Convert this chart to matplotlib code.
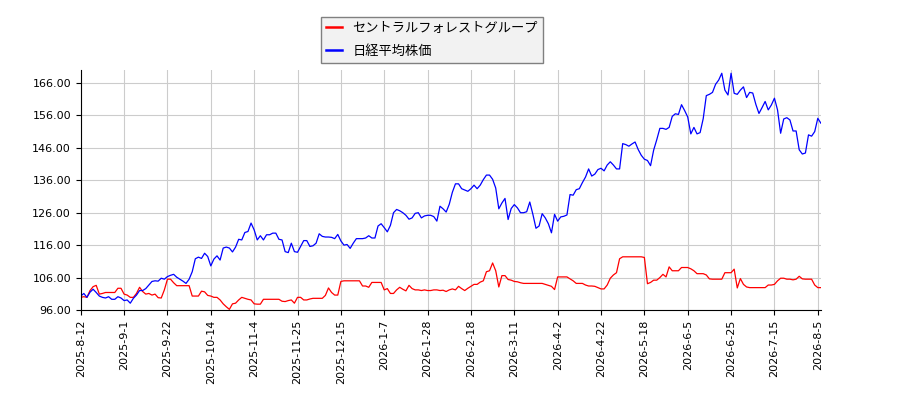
import matplotlib
matplotlib.use("Agg")
import matplotlib.pyplot as plt
import numpy as np

plt.rcParams['font.family'] = ['Noto Sans CJK JP', 'DejaVu Sans']

tick_labels = ["2025-8-12", "2025-9-1", "2025-9-22", "2025-10-14", "2025-11-4",
               "2025-11-25", "2025-12-15", "2026-1-7", "2026-1-28", "2026-2-18",
               "2026-3-11", "2026-4-2", "2026-4-22", "2026-5-18", "2026-6-5",
               "2026-6-25", "2026-7-15", "2026-8-5"]
tick_step = 14

nikkei = [
    100.3, 101.1, 99.9, 101.5, 102.4, 101.4, 100.3, 99.9, 99.7, 100.1,
    99.3, 99.3, 100.1, 99.7, 98.9, 99.1, 98.1, 99.6, 100.6, 102.0,
    102.0, 102.6, 103.7, 104.8, 105.0, 104.9, 105.8, 105.5, 106.3, 106.7,
    107.0, 106.1, 105.5, 104.9, 104.2, 105.5, 107.8, 111.8, 112.3, 111.9,
    113.5, 112.5, 109.6, 111.7, 112.7, 111.4, 115.1, 115.4, 115.1, 113.9,
    115.4, 117.8, 117.6, 119.9, 120.2, 122.8, 120.7, 117.6, 118.9, 117.6,
    119.2, 119.2, 119.7, 119.7, 117.8, 117.6, 114.0, 113.7, 116.6, 114.0,
    113.8, 115.6, 117.4, 117.4, 115.6, 115.8, 116.6, 119.5, 118.7, 118.5,
    118.5, 118.4, 118.0, 119.3, 117.3, 116.0, 116.2, 115.0, 116.6, 118.0,
    118.0, 118.0, 118.2, 118.9, 118.2, 118.2, 121.9, 122.6, 121.4, 120.1,
    122.1, 126.0, 127.0, 126.6, 126.0, 125.2, 124.0, 124.4, 125.8, 126.0,
    124.4, 125.0, 125.2, 125.2, 124.8, 123.4, 128.0, 127.2, 126.2, 128.6,
    132.3, 134.9, 134.9, 133.4, 133.0, 132.6, 133.4, 134.5, 133.4, 134.5,
    136.2, 137.6, 137.6, 136.3, 133.6, 127.2, 129.0, 130.4, 123.9, 127.3,
    128.5, 127.5, 126.0, 126.0, 126.3, 129.3, 125.5, 121.2, 121.9, 125.7,
    124.4, 122.6, 119.8, 125.5, 123.4, 124.7, 124.9, 125.3, 131.6, 131.4,
    133.1, 133.4, 135.3, 137.0, 139.5, 137.3, 137.9, 139.3, 139.7, 138.9,
    140.7, 141.7, 140.7, 139.5, 139.5, 147.3, 147.0, 146.5, 147.2, 147.8,
    145.5, 143.7, 142.5, 142.1, 140.5, 145.3, 148.5, 152.0, 152.0, 151.7,
    152.3, 155.7, 156.5, 156.3, 159.3, 157.5, 155.5, 150.3, 152.3, 150.3,
    150.7, 155.0, 162.1, 162.5, 163.1, 165.6, 166.9, 169.0, 163.8, 162.3,
    169.0, 162.8, 162.5, 163.8, 164.8, 161.5, 163.1, 162.9, 159.4, 156.6,
    158.4, 160.3, 157.7, 159.2, 161.3, 157.7, 150.5, 154.9, 155.3, 154.6,
    151.2, 151.2, 145.4, 144.1, 144.4, 150.0, 149.6, 151.0, 155.1, 153.6,
]

central_forest = [
    99.9, 100.1, 99.9, 102.0, 103.2, 103.6, 100.9, 101.1, 101.4, 101.4,
    101.4, 101.4, 102.7, 102.7, 100.9, 100.6, 99.9, 99.9, 101.1, 103.0,
    101.7, 100.9, 101.1, 100.6, 100.9, 99.8, 99.7, 102.2, 105.5, 105.5,
    104.4, 103.5, 103.5, 103.5, 103.5, 103.5, 100.3, 100.3, 100.3, 101.8,
    101.6, 100.5, 100.3, 99.9, 99.9, 99.1, 97.9, 97.0, 96.2, 97.9,
    98.1, 99.1, 99.9, 99.6, 99.3, 99.1, 97.9, 97.8, 97.8, 99.3,
    99.3, 99.3, 99.3, 99.3, 99.3, 98.7, 98.6, 98.9, 99.1, 98.1,
    99.9, 99.9, 99.1, 99.1, 99.4, 99.6, 99.6, 99.6, 99.6, 100.5,
    102.8, 101.4, 100.6, 100.6, 104.8, 105.0, 105.0, 105.0, 105.0, 105.0,
    105.0, 103.4, 103.4, 103.0, 104.5, 104.5, 104.5, 104.5, 102.2, 102.6,
    101.1, 101.1, 102.2, 103.0, 102.4, 101.9, 103.6, 102.6, 102.2, 102.2,
    102.0, 102.2, 102.0, 102.0, 102.2, 102.2, 102.0, 102.1, 101.7, 102.2,
    102.5, 102.2, 103.3, 102.6, 102.0, 102.7, 103.3, 103.9, 103.9, 104.6,
    105.0, 107.8, 108.1, 110.5, 108.1, 103.1, 106.6, 106.6, 105.4, 105.2,
    104.8, 104.7, 104.4, 104.2, 104.2, 104.2, 104.2, 104.2, 104.2, 104.2,
    103.9, 103.6, 103.3, 102.3, 106.2, 106.2, 106.2, 106.2, 105.6, 105.0,
    104.2, 104.2, 104.2, 103.7, 103.4, 103.4, 103.3, 102.9, 102.5, 102.5,
    103.7, 105.8, 106.8, 107.5, 111.8, 112.4, 112.4, 112.4, 112.4, 112.4,
    112.4, 112.4, 112.2, 104.1, 104.5, 105.2, 105.2, 106.0, 107.0, 106.2,
    109.3, 108.1, 108.1, 108.1, 109.1, 109.1, 109.1, 108.7, 108.1, 107.2,
    107.2, 107.2, 106.8, 105.6, 105.5, 105.5, 105.5, 105.5, 107.5, 107.5,
    107.5, 108.6, 102.8, 105.7, 103.9, 103.1, 102.9, 102.9, 102.9, 102.9,
    102.9, 102.9, 103.7, 103.7, 103.9, 105.0, 105.8, 105.8, 105.5, 105.5,
    105.3, 105.5, 106.4, 105.6, 105.5, 105.5, 105.5, 103.7, 102.9, 102.9,
]

y_ticks = [96, 106, 116, 126, 136, 146, 156, 166]

fig = plt.figure(figsize=(9, 4), dpi=100)
ax = fig.add_axes([0.0897, 0.225, 0.8224, 0.60])

x1 = np.arange(len(central_forest))
x2 = np.arange(len(nikkei))
ax.plot(x1, central_forest, color='red', lw=0.9, label='セントラルフォレストグループ')
ax.plot(x2, nikkei, color='blue', lw=0.9, label='日経平均株価')

ax.set_xlim(0, len(nikkei) - 1)
ax.set_ylim(96, 170)
ax.set_yticks(y_ticks)
ax.set_yticklabels([f"{v:.2f}" for v in y_ticks], family='DejaVu Sans', fontsize=8)
ax.set_xticks(np.arange(len(tick_labels)) * tick_step)
ax.set_xticklabels(tick_labels, rotation=90, family='DejaVu Sans', fontsize=8)
ax.grid(True, color='#cccccc', lw=0.8)
ax.set_axisbelow(True)
for s in ['top', 'right']:
    ax.spines[s].set_visible(False)

leg = fig.legend(loc='upper center', bbox_to_anchor=(0.48, 0.975), fontsize=9.5,
                 facecolor='#f2f2f2', edgecolor='#808080', fancybox=False,
                 framealpha=1, handlelength=1.2, handletextpad=0.8,
                 labelspacing=0.75)
for line in leg.get_lines():
    line.set_linewidth(1.8)

fig.savefig('out.png', dpi=100)
